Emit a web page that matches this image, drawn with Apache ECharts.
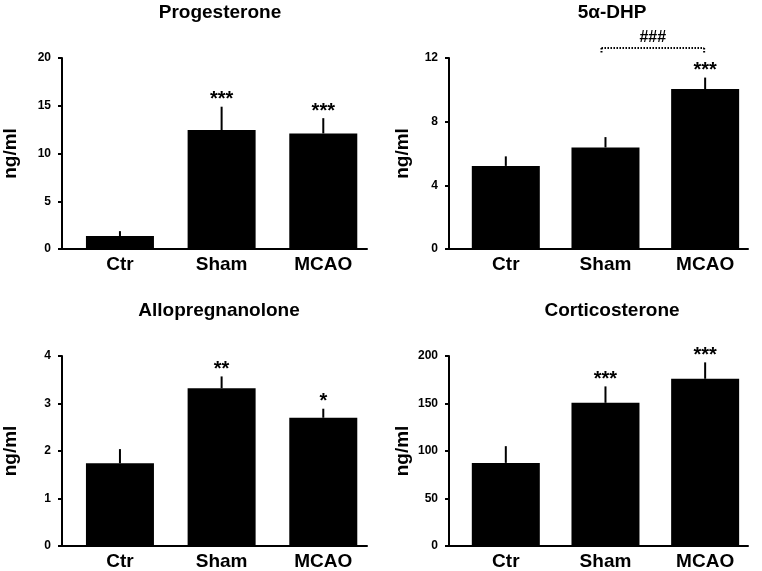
<!DOCTYPE html>
<html>
<head>
<meta charset="utf-8">
<script src="https://cdn.jsdelivr.net/npm/echarts@6/dist/echarts.min.js"></script>
<style>
html,body{margin:0;padding:0;background:#fff;}
#chart{width:762px;height:571px;}
</style>
</head>
<body>
<div id="chart"></div>
<script>
const categories = ['Ctr', 'Sham', 'MCAO'];

const progMean = [1.35, 12.45, 12.1];
const progErr = [0.52, 2.45, 1.6];
const progSig = ['', '***', '***'];

const dhpMean = [5.22, 6.38, 10.05];
const dhpErr = [0.6, 0.65, 0.72];
const dhpSig = ['', '', '***'];

const alloMean = [1.74, 3.32, 2.7];
const alloErr = [0.3, 0.25, 0.19];
const alloSig = ['', '**', '*'];

const cortMean = [87.5, 150.7, 176];
const cortErr = [17.6, 17.3, 17.3];
const cortSig = ['', '***', '***'];

const titles = ['Progesterone', '5\u03b1-DHP', 'Allopregnanolone', 'Corticosterone'];
const yTicks = [
  {min: 0, max: 20, interval: 5},
  {min: 0, max: 12, interval: 4},
  {min: 0, max: 4, interval: 1},
  {min: 0, max: 200, interval: 50}
];
const dhpBracket = {from: 'Sham', to: 'MCAO', text: '###'};

const panels = [
  {mean: progMean, err: progErr, sig: progSig},
  {mean: dhpMean, err: dhpErr, sig: dhpSig},
  {mean: alloMean, err: alloErr, sig: alloSig},
  {mean: cortMean, err: cortErr, sig: cortSig}
];

const FONT = "'Liberation Sans', Arial, sans-serif";
const grids = [
  {left: 61, top: 58, width: 306, height: 191},
  {left: 449, top: 58, width: 299, height: 191},
  {left: 61, top: 356, width: 306, height: 191},
  {left: 449, top: 356, width: 299, height: 191}
];
const titlePos = [
  {left: 215, top: -2},
  {left: 607, top: -2},
  {left: 214, top: 296},
  {left: 607, top: 296}
];
const nameGaps = [42, 37, 42, 37];

const option = {
  animation: false,
  backgroundColor: '#fff',
  title: titles.map((t, i) => ({
    text: t,
    left: titlePos[i].left,
    top: titlePos[i].top,
    textAlign: 'center',
    textStyle: {fontFamily: FONT, fontWeight: 'bold', fontSize: 19, color: '#000'}
  })),
  grid: grids,
  xAxis: grids.map((g, i) => ({
    type: 'value',
    gridIndex: i,
    min: -0.57,
    max: 2.43,
    splitLine: {show: false},
    axisTick: {show: false},
    axisLine: {show: true, onZero: false, lineStyle: {color: '#000', width: 2}},
    axisLabel: {
      customValues: [0, 1, 2],
      formatter: v => categories[Math.round(v)],
      fontFamily: FONT, fontWeight: 'bold', fontSize: 19, color: '#000', margin: 6
    }
  })),
  yAxis: yTicks.map((t, i) => ({
    type: 'value',
    gridIndex: i,
    min: t.min, max: t.max, interval: t.interval,
    name: 'ng/ml',
    nameLocation: 'middle',
    nameGap: nameGaps[i],
    nameTextStyle: {fontFamily: FONT, fontWeight: 'bold', fontSize: 19, color: '#000'},
    splitLine: {show: false},
    axisLine: {show: true, onZero: false, lineStyle: {color: '#000', width: 2}},
    axisTick: {show: true, length: 4, lineStyle: {color: '#000', width: 2}},
    axisLabel: {fontFamily: FONT, fontWeight: 'bold', fontSize: 12, color: '#000', margin: 11}
  })),
  series: []
};

panels.forEach((p, i) => {
  option.series.push({
    type: 'bar',
    xAxisIndex: i, yAxisIndex: i,
    barWidth: 68,
    itemStyle: {color: '#000'},
    data: p.mean.map((v, k) => [k, v])
  });
  option.series.push({
    type: 'custom',
    xAxisIndex: i, yAxisIndex: i,
    clip: false,
    data: p.mean.map((v, k) => [k, v, p.err[k]]),
    renderItem: (params, api) => {
      const x = api.value(0), v = api.value(1), e = api.value(2);
      const p0 = api.coord([x, v]);
      const p1 = api.coord([x, v + e]);
      const children = [{
        type: 'line',
        shape: {x1: p0[0], y1: p0[1], x2: p1[0], y2: p1[1]},
        style: {stroke: '#000', lineWidth: 2}
      }];
      const s = p.sig[params.dataIndex];
      if (s) {
        children.push({
          type: 'text',
          style: {
            text: s, x: p1[0], y: p1[1] - 7,
            align: 'center', verticalAlign: 'middle',
            font: 'bold 20px ' + FONT, fill: '#000'
          }
        });
      }
      return {type: 'group', children: children};
    }
  });
});

// significance bracket for 5α-DHP
option.series.push({
  type: 'custom',
  xAxisIndex: 1, yAxisIndex: 1,
  clip: false,
  data: [[categories.indexOf(dhpBracket.from), categories.indexOf(dhpBracket.to)]],
  renderItem: (params, api) => {
    const a = api.coord([api.value(0), yTicks[1].max]);
    const b = api.coord([api.value(1), yTicks[1].max]);
    const y = a[1] - 10;
    const xl = a[0] - 4, xr = b[0] - 1;
    const st = {stroke: '#000', lineWidth: 2, lineDash: [1.5, 1.5]};
    return {
      type: 'group',
      children: [
        {type: 'line', shape: {x1: xl, y1: y, x2: xr, y2: y}, style: st},
        {type: 'line', shape: {x1: xl, y1: y, x2: xl, y2: y + 6}, style: st},
        {type: 'line', shape: {x1: xr, y1: y, x2: xr, y2: y + 6}, style: st},
        {type: 'text', style: {text: dhpBracket.text, x: (xl + xr) / 2, y: y - 10,
          align: 'center', verticalAlign: 'middle', font: 'bold 16px ' + FONT, fill: '#000'}}
      ]
    };
  }
});

const chart = echarts.init(document.getElementById('chart'), null, {renderer: 'canvas'});
chart.setOption(option);
</script>
</body>
</html>
